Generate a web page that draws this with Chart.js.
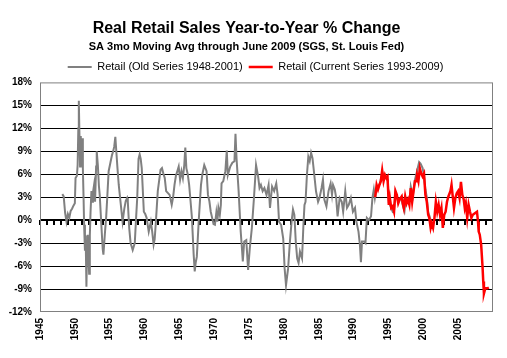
<!DOCTYPE html>
<html>
<head>
<meta charset="utf-8">
<script src="https://cdn.jsdelivr.net/npm/chart.js@4.4.1/dist/chart.umd.min.js"></script>
<style>
  html, body { margin: 0; padding: 0; background: #ffffff; }
  canvas { display: block; }
</style>
</head>
<body>
<canvas id="c" width="507" height="358"></canvas>
<script>
// ---- Data ----
const oldYears = [
  1948.2,1948.4,1948.6,1948.8,1949.0,1949.2,1949.4,1949.6,1949.8,1950.0,
  1950.1,1950.3,1950.4,1950.5,1950.57,1950.65,1950.75,1950.85,1950.95,1951.05,
  1951.15,1951.25,1951.33,1951.45,1951.55,1951.66,1951.75,1951.85,1951.95,1952.05,
  1952.15,1952.25,1952.38,1952.5,1952.6,1952.76,1952.9,1953.05,1953.14,1953.3,
  1953.45,1953.57,1953.8,1954.0,1954.1,1954.3,1954.5,1954.67,1954.85,1955.1,
  1955.33,1955.5,1955.65,1955.81,1955.95,1956.1,1956.3,1956.6,1956.85,1957.1,
  1957.3,1957.5,1957.6,1957.8,1958.0,1958.3,1958.6,1958.8,1958.95,1959.14,
  1959.3,1959.45,1959.6,1959.9,1960.1,1960.3,1960.6,1960.9,1961.1,1961.3,
  1961.45,1961.6,1961.9,1962.3,1962.5,1962.7,1962.9,1963.1,1963.4,1963.6,
  1963.9,1964.1,1964.3,1964.5,1964.7,1964.9,1965.1,1965.3,1965.5,1965.7,
  1965.85,1966.0,1966.2,1966.4,1966.6,1966.8,1967.05,1967.2,1967.35,1967.5,
  1967.8,1968.1,1968.3,1968.57,1968.9,1969.1,1969.3,1969.5,1969.7,1969.9,
  1970.1,1970.3,1970.45,1970.6,1970.8,1970.95,1971.05,1971.3,1971.5,1971.6,
  1971.8,1971.95,1972.3,1972.6,1972.9,1973.05,1973.2,1973.5,1973.8,1974.0,
  1974.1,1974.3,1974.6,1974.86,1975.1,1975.4,1975.7,1976.0,1976.3,1976.5,
  1976.7,1976.95,1977.2,1977.5,1977.8,1978.0,1978.3,1978.6,1978.9,1979.1,
  1979.3,1979.6,1979.9,1980.1,1980.3,1980.6,1980.86,1981.1,1981.3,1981.5,
  1981.7,1981.9,1982.1,1982.3,1982.6,1982.8,1982.95,1983.1,1983.3,1983.5,
  1983.7,1983.9,1984.1,1984.3,1984.6,1984.9,1985.1,1985.4,1985.6,1985.8,
  1986.1,1986.4,1986.7,1986.9,1987.05,1987.3,1987.5,1987.7,1988.0,1988.3,
  1988.5,1988.8,1989.05,1989.3,1989.6,1989.9,1990.2,1990.4,1990.7,1990.9,
  1991.05,1991.2,1991.5,1991.7,1991.9,1992.2,1992.5,1992.7,1992.9,1993.05,
  1993.2,1993.5,1993.8,1994.1,1994.4,1994.7,1994.9,1995.05,1995.3,1995.6,
  1995.8,1996.0,1996.3,1996.6,1996.9,1997.1,1997.3,1997.5,1997.8,1998.05,
  1998.2,1998.5,1998.8,1999.1,1999.4,1999.6,1999.9,2000.1,2000.3,2000.5,
  2000.7,2000.9,2001.0
];
const oldValues = [
  3.4,3.1,1.0,-0.2,0.8,0.3,1.2,1.5,1.9,2.2,
  5.5,5.8,7.2,12.0,15.6,11.6,7.0,11.0,7.5,10.7,
  6.8,3.0,-0.6,-4.0,-2.0,-8.7,-4.0,-1.9,-4.5,-7.0,
  -2.0,1.0,3.8,2.4,3.6,4.6,2.4,7.0,9.0,7.2,
  4.5,3.3,-0.6,-3.8,-4.5,-1.9,0.5,3.3,6.4,7.5,
  8.5,9.0,9.6,10.9,9.0,7.0,4.6,2.0,-0.2,1.5,
  2.5,2.9,2.4,-1.0,-3.0,-3.9,-3.0,0.5,2.9,8.0,
  8.6,8.0,6.8,1.1,0.8,0.3,-1.5,-0.2,-1.5,-3.2,
  -2.5,-0.6,3.8,6.6,6.8,6.1,5.5,3.8,3.5,3.3,
  2.0,3.0,4.6,5.8,6.4,7.0,5.3,6.4,5.5,7.2,
  9.5,6.8,6.0,4.6,2.5,0.3,-4.5,-6.7,-5.5,-4.8,
  0.3,4.6,6.0,7.2,6.4,3.3,2.5,1.1,0.3,-0.5,
  -0.6,1.0,-0.2,1.6,0.7,2.0,4.8,5.1,6.0,6.4,
  9.1,5.9,7.0,7.5,7.7,11.3,8.1,3.8,-1.5,-4.0,
  -5.4,-2.8,-2.6,-6.5,-3.7,-1.0,2.9,7.2,5.7,4.2,
  4.6,3.8,4.2,3.3,4.6,1.6,4.4,3.8,4.8,3.3,
  -0.2,-0.6,-2.4,-6.3,-8.5,-6.3,-2.8,-0.2,1.4,0.7,
  -2.8,-5.0,-5.6,-4.1,-5.0,-0.6,2.0,2.4,5.9,8.3,
  7.7,8.8,8.1,6.4,3.8,2.4,2.9,4.2,5.3,2.7,
  1.8,3.8,4.8,3.3,4.6,4.0,2.9,0.5,2.9,2.4,
  1.1,3.8,1.6,2.0,2.9,1.1,1.6,-0.2,-1.5,-3.2,
  -5.5,-2.8,-2.8,-3.0,0.3,0.0,0.5,2.9,4.0,2.9,
  3.8,4.4,4.8,6.3,5.4,5.6,5.2,2.3,1.8,1.1,
  1.3,3.6,2.7,2.8,2.6,1.8,1.2,2.8,2.4,2.8,
  4.4,3.2,5.3,6.4,7.6,7.4,6.8,5.8,4.0,3.0,
  1.0,0.5,-0.2
];
const newYears = [
  1993.1,1993.3,1993.5,1993.7,1993.9,1994.1,1994.3,1994.5,1994.7,1994.86,
  1995.05,1995.2,1995.4,1995.6,1995.8,1996.0,1996.2,1996.4,1996.6,1996.9,
  1997.05,1997.2,1997.4,1997.6,1997.8,1998.0,1998.2,1998.4,1998.6,1998.8,
  1999.0,1999.1,1999.3,1999.5,1999.7,1999.9,2000.1,2000.3,2000.5,2000.7,
  2000.86,2001.05,2001.2,2001.4,2001.6,2001.8,2002.0,2002.2,2002.4,2002.6,
  2002.8,2003.0,2003.2,2003.4,2003.6,2003.9,2004.05,2004.2,2004.4,2004.6,
  2004.8,2005.0,2005.2,2005.4,2005.6,2005.8,2005.95,2006.1,2006.3,2006.5,
  2006.7,2006.9,2007.1,2007.4,2007.7,2007.85,2007.95,2008.1,2008.3,2008.5,
  2008.6,2008.7,2008.9,2009.2,2009.4
];
const newValues = [
  3.0,4.6,4.0,4.6,5.1,6.5,5.1,5.9,5.5,5.7,
  2.0,2.9,1.6,1.8,1.1,3.8,3.3,2.2,2.7,3.1,
  2.2,1.6,3.1,2.2,2.7,2.0,4.2,2.4,3.8,5.1,
  5.1,5.9,5.1,6.8,6.1,5.7,6.1,3.3,2.4,0.7,
  0.3,-1.0,-0.4,-1.0,0.3,2.4,1.1,2.0,0.7,1.6,
  -1.0,0.7,1.1,2.4,3.1,3.8,4.6,3.3,1.6,2.9,
  3.5,3.8,2.9,5.0,3.3,2.7,1.6,2.2,0.3,2.0,
  1.1,0.3,0.7,0.9,1.1,-0.2,-1.5,-1.9,-3.2,-6.1,
  -8.0,-9.6,-8.9,-8.9,-8.8
];
const xTickYears = [1945,1950,1955,1960,1965,1970,1975,1980,1985,1990,1995,2000,2005];
const yTickValues = [-12,-9,-6,-3,0,3,6,9,12,15,18];
const seriesNames = ['Retail (Old Series 1948-2001)', 'Retail (Current Series 1993-2009)'];

const toPoints = (xs, ys) => xs.map((x, i) => ({ x: x, y: ys[i] }));

const framePlugin = {
  id: 'frame',
  afterLayout(chart) {
    // shift the legend block slightly right, as in the reference
    if (chart.legend) { chart.legend.left += 9; chart.legend.right += 9; }
  },
  beforeDatasetsDraw(chart) {
    const { ctx, chartArea: a, scales: { x, y } } = chart;
    const y0 = Math.round(y.getPixelForValue(0));
    ctx.save();
    ctx.strokeStyle = '#000000';
    ctx.lineWidth = 2;
    ctx.beginPath();
    ctx.moveTo(a.left, y0);
    ctx.lineTo(a.right, y0);
    ctx.stroke();
    ctx.beginPath();
    for (let yr = x.min; yr < x.max; yr++) {
      const px = Math.round(x.getPixelForValue(yr));
      ctx.moveTo(px, y0);
      ctx.lineTo(px, y0 + 5);
    }
    ctx.stroke();
    ctx.strokeStyle = '#808080';
    ctx.lineWidth = 1;
    ctx.strokeRect(a.left + 0.5, a.top + 0.5, a.width - 1, a.height - 1);
    ctx.restore();
  }
};

new Chart(document.getElementById('c'), {
  type: 'line',
  data: {
    datasets: [
      {
        label: seriesNames[0],
        data: toPoints(oldYears, oldValues),
        borderColor: '#808080',
        backgroundColor: '#808080',
        borderWidth: 2,
        pointRadius: 0,
        tension: 0,
        fill: false,
        order: 1
      },
      {
        label: seriesNames[1],
        data: toPoints(newYears, newValues),
        borderColor: '#ff0000',
        backgroundColor: '#ff0000',
        borderWidth: 2.5,
        pointRadius: 0,
        tension: 0,
        fill: false,
        order: 0
      }
    ]
  },
  options: {
    responsive: false,
    animation: false,
    layout: { padding: { left: 0, right: 14, top: 0, bottom: 0 } },
    plugins: {
      title: {
        display: true,
        text: 'Real Retail Sales Year-to-Year % Change',
        color: '#000000',
        font: { family: '"Liberation Sans", Arial, sans-serif', size: 16, weight: 'bold' },
        padding: { top: 19, bottom: 0 }
      },
      subtitle: {
        display: true,
        text: 'SA 3mo Moving Avg through June 2009 (SGS, St. Louis Fed)',
        color: '#000000',
        font: { family: '"Liberation Sans", Arial, sans-serif', size: 11, weight: 'bold' },
        padding: { top: 2, bottom: 2 }
      },
      legend: {
        display: true,
        labels: {
          color: '#000000',
          font: { family: '"Liberation Sans", Arial, sans-serif', size: 11 },
          usePointStyle: true,
          pointStyle: 'line',
          pointStyleWidth: 24,
          padding: 6,
          sort: (a, b) => a.datasetIndex - b.datasetIndex
        }
      },
      tooltip: { enabled: false }
    },
    scales: {
      x: {
        type: 'linear',
        min: 1945,
        max: 2010,
        afterBuildTicks: s => { s.ticks = xTickYears.map(v => ({ value: v })); },
        afterFit: s => { s.height = 46; },
        grid: { display: false, drawTicks: false },
        border: { display: false },
        ticks: {
          autoSkip: false,
          minRotation: 90,
          maxRotation: 90,
          padding: 6,
          color: '#000000',
          font: { family: '"Liberation Sans", Arial, sans-serif', size: 10, weight: 'bold' },
          callback: v => String(v)
        }
      },
      y: {
        min: -12,
        max: 18,
        afterBuildTicks: s => { s.ticks = yTickValues.map(v => ({ value: v })); },
        afterFit: s => { s.width = 40; },
        grid: {
          drawTicks: false,
          lineWidth: 1,
          color: c => (c.tick && (c.tick.value === 18 || c.tick.value === -12 || c.tick.value === 0)) ? 'rgba(0,0,0,0)' : '#000000'
        },
        border: { display: false },
        ticks: {
          padding: 8,
          color: '#000000',
          font: { family: '"Liberation Sans", Arial, sans-serif', size: 10, weight: 'bold' },
          callback: v => v + '%'
        }
      }
    }
  },
  plugins: [framePlugin]
});
</script>
</body>
</html>
